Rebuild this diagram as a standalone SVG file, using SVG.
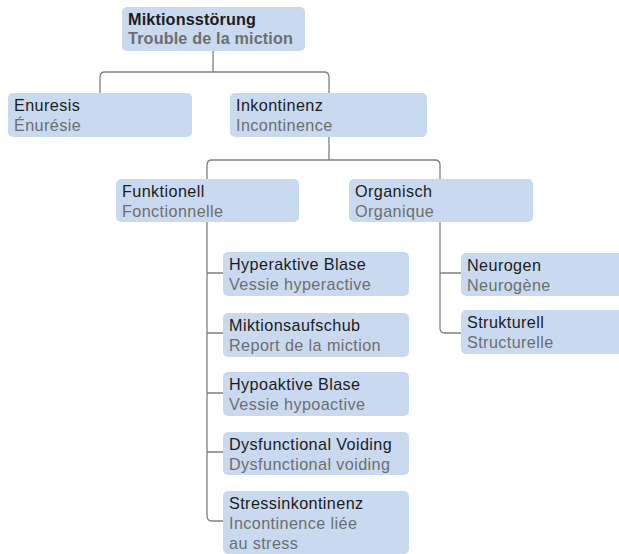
<svg xmlns="http://www.w3.org/2000/svg" width="619" height="554" viewBox="0 0 619 554">
<style>
.box{fill:#c9daf0}
.t{font-family:"Liberation Sans",Arial,sans-serif;font-size:16.2px;fill:#1c1c1c;letter-spacing:0.4px}
.s{font-family:"Liberation Sans",Arial,sans-serif;font-size:16.2px;fill:#6e6e6e;letter-spacing:0.4px}
.b{font-weight:bold;letter-spacing:0.15px}
.c{fill:none;stroke:#7f7f7f;stroke-width:1.3}
</style>
<rect width="619" height="554" fill="#ffffff"/>
<g id="connectors">
<path class="c" d="M213,51 V72 M100,93 V77 Q100,72 105,72 H324 Q329,72 329,77 V93"/>
<path class="c" d="M329,137 V160 M207,179 V165 Q207,160 212,160 H435 Q440,160 440,165 V179"/>
<path class="c" d="M207,222 V516 Q207,521 212,521 H223 M207,273 H223 M207,333 H223 M207,393 H223 M207,452 H223"/>
<path class="c" d="M440,222 V328 Q440,333 445,333 H461 M440,273 H461"/>
</g>
<g id="root"><rect class="box" x="122" y="7" width="183" height="44" rx="5"/><text class="t b" x="128" y="25">Miktionsstörung</text><text class="s b" x="128" y="44">Trouble de la miction</text></g>
<g id="enuresis"><rect class="box" x="8" y="93" width="184" height="44" rx="5"/><text class="t" x="14" y="111">Enuresis</text><text class="s" x="14" y="131">Énurésie</text></g>
<g id="inkontinenz"><rect class="box" x="230" y="93" width="197" height="44" rx="5"/><text class="t" x="236" y="111">Inkontinenz</text><text class="s" x="236" y="131">Incontinence</text></g>
<g id="funktionell"><rect class="box" x="116" y="179" width="183" height="43" rx="5"/><text class="t" x="122" y="197">Funktionell</text><text class="s" x="122" y="217">Fonctionnelle</text></g>
<g id="organisch"><rect class="box" x="349" y="179" width="184" height="43" rx="5"/><text class="t" x="355" y="197">Organisch</text><text class="s" x="355" y="217">Organique</text></g>
<g id="hyperaktive"><rect class="box" x="223" y="252" width="186" height="44" rx="5"/><text class="t" x="229" y="270">Hyperaktive Blase</text><text class="s" x="229" y="290">Vessie hyperactive</text></g>
<g id="miktionsaufschub"><rect class="box" x="223" y="313" width="186" height="44" rx="5"/><text class="t" x="229" y="331">Miktionsaufschub</text><text class="s" x="229" y="351">Report de la miction</text></g>
<g id="hypoaktive"><rect class="box" x="223" y="372" width="186" height="44" rx="5"/><text class="t" x="229" y="390">Hypoaktive Blase</text><text class="s" x="229" y="410">Vessie hypoactive</text></g>
<g id="dysfunctional"><rect class="box" x="223" y="432" width="186" height="43" rx="5"/><text class="t" x="229" y="450">Dysfunctional Voiding</text><text class="s" x="229" y="470">Dysfunctional voiding</text></g>
<g id="stress"><rect class="box" x="223" y="491" width="186" height="63" rx="5"/><text class="t" x="229" y="509">Stressinkontinenz</text><text class="s" x="229" y="529">Incontinence liée</text><text class="s" x="229" y="549">au stress</text></g>
<g id="neurogen"><rect class="box" x="461" y="253" width="163" height="43" rx="5"/><text class="t" x="467" y="271">Neurogen</text><text class="s" x="467" y="291">Neurogène</text></g>
<g id="strukturell"><rect class="box" x="461" y="310" width="163" height="44" rx="5"/><text class="t" x="467" y="328">Strukturell</text><text class="s" x="467" y="348">Structurelle</text></g>
</svg>
